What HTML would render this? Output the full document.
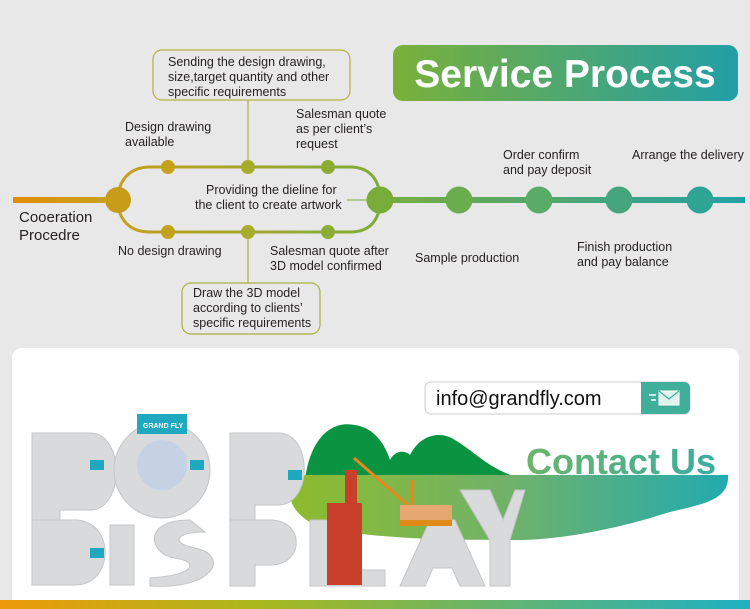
<!DOCTYPE html>
<html><head><meta charset="utf-8"><style>
html,body{margin:0;padding:0;background:#e9e8e8}
svg{display:block}
text{font-family:"Liberation Sans",sans-serif}
</style></head><body>
<svg width="750" height="609" viewBox="0 0 750 609" xmlns="http://www.w3.org/2000/svg">
<defs>
<linearGradient id="tg" x1="0" x2="1"><stop offset="0" stop-color="#7bb03a"/><stop offset="1" stop-color="#229fa6"/></linearGradient>
<linearGradient id="lineg" x1="380" x2="745" gradientUnits="userSpaceOnUse"><stop offset="0" stop-color="#76ae3c"/><stop offset="1" stop-color="#22a0a8"/></linearGradient>
<linearGradient id="loopg" x1="105" x2="395" gradientUnits="userSpaceOnUse"><stop offset="0" stop-color="#c99f1a"/><stop offset="1" stop-color="#78ad3c"/></linearGradient>
<linearGradient id="og" x1="0" x2="1"><stop offset="0" stop-color="#e08c0a"/><stop offset="1" stop-color="#c9a11a"/></linearGradient>
<linearGradient id="band" x1="0" x2="1"><stop offset="0" stop-color="#8dbb2e"/><stop offset="0.5" stop-color="#70b26a"/><stop offset="1" stop-color="#22aab0"/></linearGradient>
<linearGradient id="bot" x1="0" x2="1"><stop offset="0" stop-color="#ef9a0a"/><stop offset="0.35" stop-color="#a8b81e"/><stop offset="1" stop-color="#1fb0c4"/></linearGradient>
<linearGradient id="cu" x1="0" x2="1"><stop offset="0" stop-color="#6cb46a"/><stop offset="1" stop-color="#3aaea0"/></linearGradient>
</defs>
<rect width="750" height="609" fill="#e9e8e8"/>
<rect x="393" y="45" width="345" height="56" rx="10" fill="url(#tg)"/>
<text x="565" y="87" text-anchor="middle" font-size="39" font-weight="bold" fill="#fff">Service Process</text>
<rect x="13" y="197" width="92" height="6" fill="url(#og)"/>
<path d="M118 200 C118 180 130 167 150 167 L350 167 C370 167 380 180 380 200 C380 220 370 232 350 232 L150 232 C130 232 118 220 118 200 Z" fill="none" stroke="url(#loopg)" stroke-width="3"/>
<line x1="248" y1="100" x2="248" y2="167" stroke="#b8b040" stroke-width="1.2"/>
<line x1="248" y1="232" x2="248" y2="283" stroke="#a8b040" stroke-width="1.2"/>
<line x1="347" y1="200" x2="368" y2="200" stroke="#78ad3c" stroke-width="1"/>
<rect x="380" y="197" width="365" height="6" fill="url(#lineg)"/>
<circle cx="118" cy="200" r="13" fill="#c79c18"/>
<circle cx="168" cy="167" r="7" fill="#c4a21e"/><circle cx="248" cy="167" r="7" fill="#a8ac2c"/><circle cx="328" cy="167" r="7" fill="#8cad34"/>
<circle cx="168" cy="232" r="7" fill="#c4a21e"/><circle cx="248" cy="232" r="7" fill="#a8ac2c"/><circle cx="328" cy="232" r="7" fill="#8cad34"/>
<circle cx="380" cy="200" r="13.5" fill="#78ad3c"/>
<circle cx="459" cy="200" r="13.5" fill="#6aad4e"/>
<circle cx="539" cy="200" r="13.5" fill="#5aab66"/>
<circle cx="619" cy="200" r="13.5" fill="#45a67e"/>
<circle cx="700" cy="200" r="13.5" fill="#2fa394"/>
<rect x="153" y="50" width="197" height="50" rx="9" fill="none" stroke="#b8b040" stroke-width="1.2"/>
<rect x="182" y="283" width="138" height="51" rx="9" fill="none" stroke="#a8b040" stroke-width="1.2"/>
<g font-size="12.5" fill="#231f20">
<text x="168" y="66">Sending the design drawing,</text>
<text x="168" y="81">size,target quantity and other</text>
<text x="168" y="96">specific requirements</text>
<text x="125" y="131">Design drawing</text>
<text x="125" y="146">available</text>
<text x="296" y="118">Salesman quote</text>
<text x="296" y="133">as per client’s</text>
<text x="296" y="148">request</text>
<text x="206" y="194">Providing the dieline for</text>
<text x="195" y="209">the client to create artwork</text>
<text x="118" y="255">No design drawing</text>
<text x="270" y="255">Salesman quote after</text>
<text x="270" y="270">3D model confirmed</text>
<text x="193" y="297">Draw the 3D model</text>
<text x="193" y="312">according to clients’</text>
<text x="193" y="327">specific requirements</text>
<text x="415" y="262">Sample production</text>
<text x="503" y="159">Order confirm</text>
<text x="503" y="174">and pay deposit</text>
<text x="632" y="159">Arrange the delivery</text>
<text x="577" y="251">Finish production</text>
<text x="577" y="266">and pay balance</text>
</g>
<text x="19" y="222" font-size="15" fill="#231f20">Cooeration</text>
<text x="19" y="240" font-size="15" fill="#231f20">Procedre</text>
<rect x="12" y="348" width="727" height="270" rx="10" fill="#fff"/>
<rect x="0" y="600" width="750" height="9" fill="url(#bot)"/>
<rect x="425" y="382" width="265" height="32" rx="6" fill="#fff" stroke="#ccc"/>
<path d="M641 382 H684 a6 6 0 0 1 6 6 V408 a6 6 0 0 1 -6 6 H641 Z" fill="#3fae9a"/>
<rect x="659" y="391" width="20" height="14" fill="#dff3ee" stroke="#fff"/>
<path d="M659 391 L669 399 L679 391" fill="none" stroke="#3fae9a" stroke-width="1.2"/>
<line x1="649" y1="395" x2="656" y2="395" stroke="#fff" stroke-width="1.5"/><line x1="651" y1="400" x2="656" y2="400" stroke="#fff" stroke-width="1.5"/>
<text x="436" y="405" font-size="20" fill="#111">info@grandfly.com</text>
<path d="M305 480 C310 440 330 420 355 425 C375 428 385 445 390 460 C395 450 405 450 410 455 C420 435 440 430 455 440 C475 452 490 470 520 478 L740 478 Z" fill="#0a9340"/>
<path d="M300 475 L728 475 C730 505 690 505 660 515 C620 528 560 540 520 540 C450 540 400 540 330 530 C290 520 280 490 300 475 Z" fill="url(#band)"/>
<text x="526" y="474" font-size="36" font-weight="bold" fill="url(#cu)">Contact Us</text>
<g fill="#d9dadb" stroke="#c4c5c7" stroke-width="1">
<path d="M32 433 H90 C125 433 125 510 90 510 H60 V520 H32 Z"/>
<circle cx="162" cy="470" r="48"/>
<path d="M230 433 H278 C313 433 313 505 278 505 H255 V520 H230 Z"/>
<path d="M32 520 H75 C115 520 115 585 75 585 H32 Z"/>
<rect x="110" y="525" width="24" height="60"/>
<path d="M190 520 C140 520 150 555 175 558 C200 562 195 575 150 578 L150 586 C215 590 230 555 195 548 C170 543 175 532 205 532 Z"/>
<path d="M230 520 H270 C305 520 305 565 270 565 H255 V586 H230 Z"/>
<path d="M310 520 H335 V570 H385 V586 H310 Z"/>
<path d="M400 586 L430 520 H455 L485 586 H460 L452 568 H433 L425 586 Z"/>
<path d="M460 490 H490 L503 520 L515 490 H525 L510 540 V586 H490 V540 Z"/>
</g>
<circle cx="162" cy="465" r="25" fill="#c5d2e4"/>
<rect x="137" y="414" width="50" height="20" fill="#1fa8c0"/>
<text x="143" y="428" font-size="7" font-weight="bold" fill="#fff">GRAND FLY</text>
<rect x="90" y="460" width="14" height="10" fill="#1fa8c0"/><rect x="190" y="460" width="14" height="10" fill="#1fa8c0"/>
<rect x="288" y="470" width="14" height="10" fill="#1fa8c0"/><rect x="90" y="548" width="14" height="10" fill="#1fa8c0"/>
<rect x="327" y="503" width="35" height="82" fill="#c8402c"/>
<rect x="345" y="470" width="12" height="35" fill="#c8402c"/>
<line x1="354" y1="458" x2="408" y2="505" stroke="#e8881c" stroke-width="3"/>
<line x1="412" y1="480" x2="412" y2="505" stroke="#e8881c" stroke-width="3"/>
<rect x="400" y="505" width="52" height="20" fill="#e6a870"/>
<rect x="400" y="520" width="52" height="6" fill="#e08a1a"/>
</svg>
</body></html>
